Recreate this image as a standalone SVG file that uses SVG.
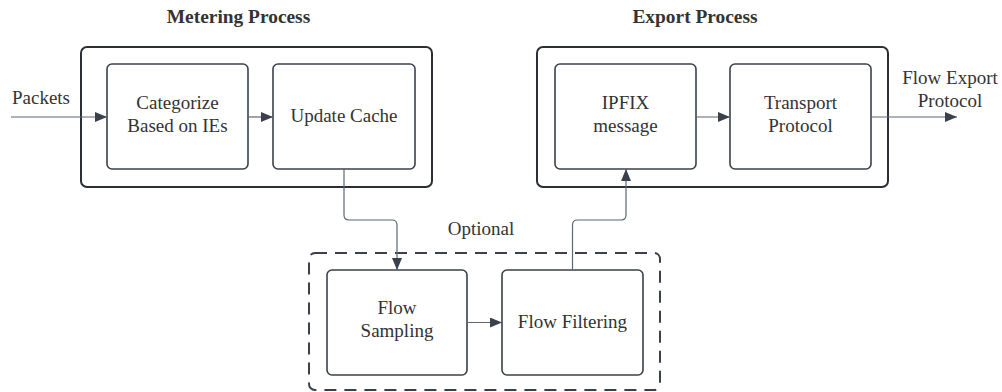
<svg xmlns="http://www.w3.org/2000/svg" width="1002" height="392" viewBox="0 0 1002 392">
  <defs>
    <marker id="arrow" viewBox="0 0 12 10" refX="12" refY="5" markerWidth="12" markerHeight="10" markerUnits="userSpaceOnUse" orient="auto">
      <path d="M0,0 L12,5 L0,10 Z" fill="#3a414a"/>
    </marker>
  </defs>
  <style>
    text { font-family: "Liberation Serif", "Times New Roman", serif; font-size: 19px; fill: #333333; text-anchor: middle; }
    .title { font-weight: bold; font-size: 19.4px; }
    .group { fill: #ffffff; stroke: #2b2f35; stroke-width: 2; }
    .opt { fill: #ffffff; stroke: #3a414a; stroke-width: 2; stroke-dasharray: 12 8; }
    .box { fill: #ffffff; stroke: #3a414a; stroke-width: 1.6; }
    .link { fill: none; stroke: #5e6772; stroke-width: 1.2; marker-end: url(#arrow); }
  </style>
  <rect width="1002" height="392" fill="#ffffff"/>

  <!-- process containers -->
  <g id="metering-process">
    <text class="title" x="238.5" y="23">Metering Process</text>
    <rect class="group" x="81" y="47" width="351" height="140" rx="6"/>
  </g>
  <g id="export-process">
    <text class="title" x="695" y="23">Export Process</text>
    <rect class="group" x="537" y="47" width="351" height="140" rx="6"/>
  </g>
  <g id="optional-stage">
    <text x="481" y="235">Optional</text>
    <rect class="opt" x="309" y="253" width="351" height="137" rx="6"/>
  </g>

  <!-- steps -->
  <g id="categorize">
    <rect class="box" x="107" y="64" width="141" height="105" rx="5"/>
    <text x="177.5" y="109">Categorize</text>
    <text x="177.5" y="132">Based on IEs</text>
  </g>
  <g id="update-cache">
    <rect class="box" x="273" y="64" width="142" height="105" rx="5"/>
    <text x="344" y="122">Update Cache</text>
  </g>
  <g id="ipfix-message">
    <rect class="box" x="555" y="64" width="141" height="105" rx="5"/>
    <text x="625.5" y="109">IPFIX</text>
    <text x="625.5" y="132">message</text>
  </g>
  <g id="transport-protocol">
    <rect class="box" x="730" y="64" width="141" height="105" rx="5"/>
    <text x="800.5" y="109">Transport</text>
    <text x="800.5" y="132">Protocol</text>
  </g>
  <g id="flow-sampling">
    <rect class="box" x="327" y="270" width="140" height="105" rx="5"/>
    <text x="397" y="314">Flow</text>
    <text x="397" y="337">Sampling</text>
  </g>
  <g id="flow-filtering">
    <rect class="box" x="502" y="270" width="141" height="105" rx="5"/>
    <text x="572.5" y="328">Flow Filtering</text>
  </g>

  <!-- external labels -->
  <g id="packets">
    <text x="41" y="104">Packets</text>
  </g>
  <g id="flow-export-protocol">
    <text x="950" y="84">Flow Export</text>
    <text x="950" y="107">Protocol</text>
  </g>

  <!-- connectors -->
  <g id="connectors">
    <path class="link" d="M11,117 H107"/>
    <path class="link" d="M248,117 H273"/>
    <path class="link" d="M696,117 H730"/>
    <path class="link" d="M871,117 H957"/>
    <path class="link" d="M467,322.5 H502"/>
    <path class="link" d="M344,169 V215 Q344,220 349,220 H392 Q397,220 397,225 V270"/>
    <path class="link" d="M572.5,270 V225 Q572.5,220 577.5,220 H621 Q626,220 626,215 V169"/>
  </g>
</svg>
